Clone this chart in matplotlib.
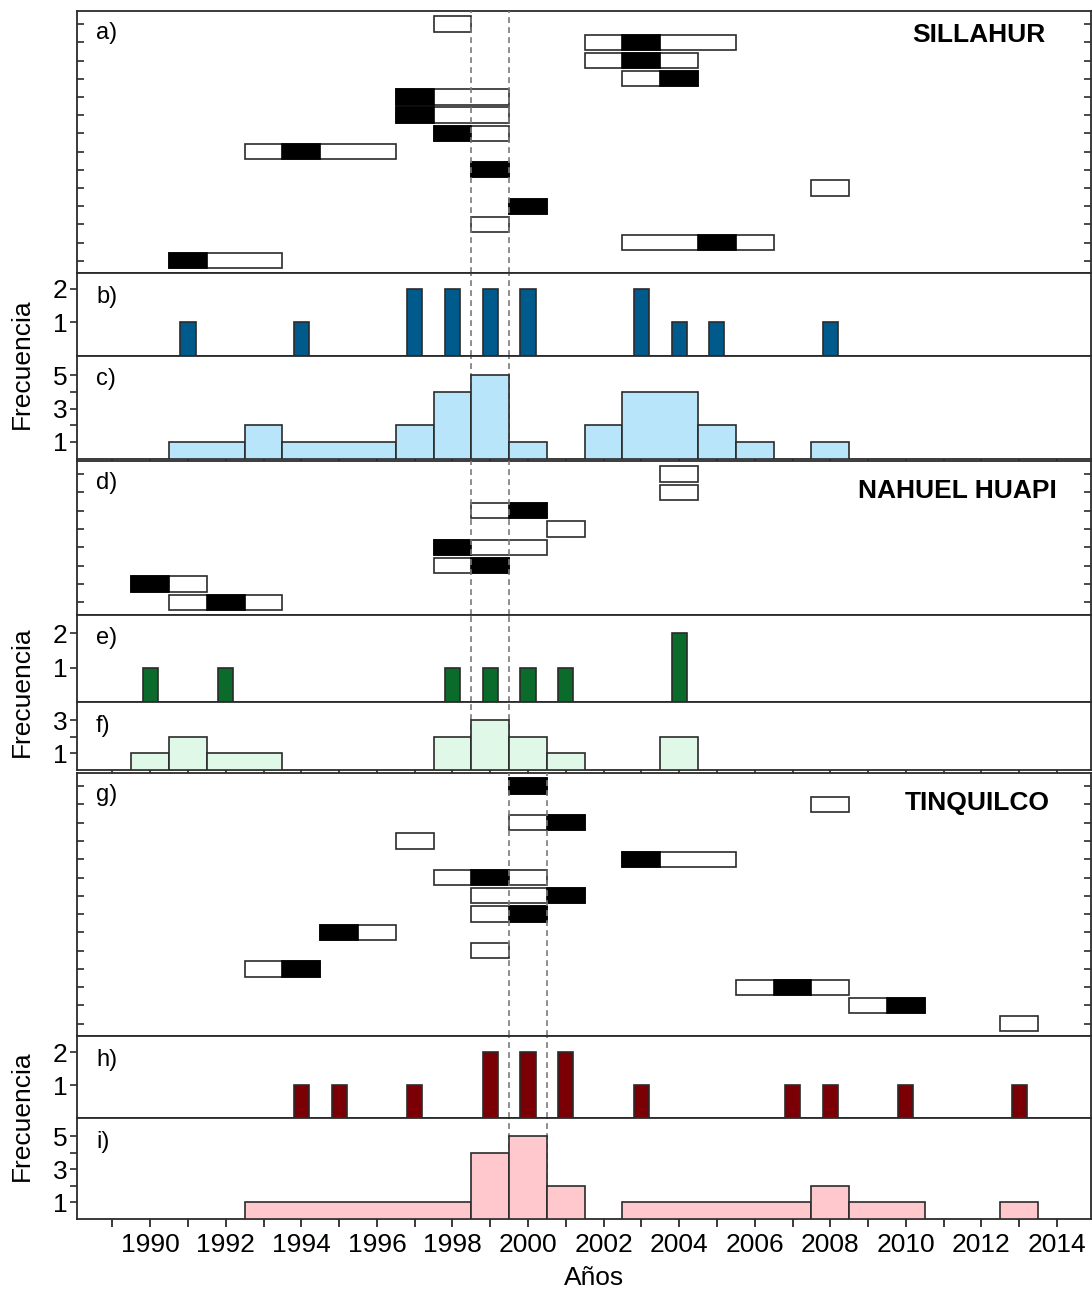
import matplotlib
matplotlib.use('Agg')
import matplotlib.pyplot as plt
from matplotlib.patches import Rectangle
from matplotlib.ticker import MultipleLocator, FixedLocator

plt.rcParams['font.family'] = ['Liberation Sans', 'DejaVu Sans']

# ---- data ----
# row panels: first year, last year, black year (None = all white), listed top -> bottom
sill_first = [1998, 2002, 2002, 2003, 1997, 1997, 1998, 1993, 1999, 2008, 2000, 1999, 2003, 1991]
sill_last  = [1998, 2005, 2004, 2004, 1999, 1999, 1999, 1996, 1999, 2008, 2000, 1999, 2006, 1993]
sill_black = [None, 2003, 2003, 2004, 1997, 1997, 1998, 1994, 1999, None, 2000, None, 2005, 1991]

sill_bar_years = [1991, 1994, 1997, 1998, 1999, 2000, 2003, 2004, 2005, 2008]
sill_bar_freq = [1, 1, 2, 2, 2, 2, 2, 1, 1, 1]

sill_hist_years = list(range(1991, 2009))
sill_hist_freq = [1, 1, 2, 1, 1, 1, 2, 4, 5, 1, 0, 2, 4, 4, 2, 1, 0, 1]

nah_first = [2004, 2004, 1999, 2001, 1998, 1998, 1990, 1991]
nah_last  = [2004, 2004, 2000, 2001, 2000, 1999, 1991, 1993]
nah_black = [None, None, 2000, None, 1998, 1999, 1990, 1992]

nah_bar_years = [1990, 1992, 1998, 1999, 2000, 2001, 2004]
nah_bar_freq = [1, 1, 1, 1, 1, 1, 2]

nah_hist_years = list(range(1990, 2005))
nah_hist_freq = [1, 2, 1, 1, 0, 0, 0, 0, 2, 3, 2, 1, 0, 0, 2]

tin_first = [2000, 2008, 2000, 1997, 2003, 1998, 1999, 1999, 1995, 1999, 1993, 2006, 2009, 2013]
tin_last  = [2000, 2008, 2001, 1997, 2005, 2000, 2001, 2000, 1996, 1999, 1994, 2008, 2010, 2013]
tin_black = [2000, None, 2001, None, 2003, 1999, 2001, 2000, 1995, None, 1994, 2007, 2010, None]

tin_bar_years = [1994, 1995, 1997, 1999, 2000, 2001, 2003, 2007, 2008, 2010, 2013]
tin_bar_freq = [1, 1, 1, 2, 2, 2, 1, 1, 1, 1, 1]

tin_hist_years = list(range(1993, 2014))
tin_hist_freq = [1, 1, 1, 1, 1, 1, 4, 5, 2, 0, 1, 1, 1, 1, 1, 2, 1, 1, 0, 0, 1]

sites = ['SILLAHUR', 'NAHUEL HUAPI', 'TINQUILCO']
dash_years = [[1998.5, 1999.5], [1998.5, 1999.5], [1999.5, 2000.5]]

# ---- layout (pixels) ----
W, H = 1092, 1291
fig = plt.figure(figsize=(W / 100, H / 100), dpi=100)
LEFT, RIGHT = 76.5, 1091

def make_ax(top, bottom):
    return fig.add_axes([LEFT / W, 1 - bottom / H, (RIGHT - LEFT) / W, (bottom - top) / H])

edge = '#2b2b2b'
XLIM = (1988.05, 2014.9)

def style(ax):
    ax.set_xlim(*XLIM)
    for s in ax.spines.values():
        s.set_linewidth(1.3)
        s.set_color(edge)
    ax.xaxis.set_major_locator(MultipleLocator(1))
    ax.tick_params(axis='x', which='both', bottom=False, labelbottom=False)

def row_panel(ax, first, last, black, dashes, site, label, site_xy):
    style(ax)
    n = len(first)
    h = 0.84
    for i in range(n):
        y = n - i
        ax.add_patch(Rectangle((first[i] - 0.5, y - h / 2), last[i] - first[i] + 1, h,
                               facecolor='white', edgecolor=edge, linewidth=1.2, zorder=2))
        if black[i] is not None:
            ax.add_patch(Rectangle((black[i] - 0.5, y - h / 2), 1, h,
                                   facecolor='black', edgecolor='black', linewidth=1.2, zorder=2))
    ax.set_ylim(0.33, n + 0.72)
    ax.yaxis.set_major_locator(FixedLocator(range(1, n + 1)))
    ax.tick_params(axis='y', which='both', direction='in', left=True, right=True,
                   labelleft=False, length=5, width=1.2, color=edge)
    for xd in dashes:
        ax.axvline(xd, color='#7a7a7a', linewidth=1.2, linestyle=(0, (3.5, 2.5)), zorder=3)
    ax.annotate(label, xy=(0, 1), xycoords='axes fraction', xytext=(14, -16),
                textcoords='offset points', fontsize=17, va='center', ha='left')
    ax.text(site_xy[0], site_xy[1], site, transform=fig.transFigure,
            fontsize=19, fontweight='bold', ha='right', va='center')

def bar_panel(ax, years, freq, color, dashes, label, top):
    style(ax)
    ax.bar(years, freq, width=0.4, color=color, edgecolor=edge, linewidth=1.2, zorder=3)
    ax.set_ylim(0, top)
    ax.set_yticks([1, 2])
    ax.tick_params(axis='y', direction='out', length=5, width=1.2, color=edge,
                   labelsize=19, pad=1.5)
    for xd in dashes:
        ax.axvline(xd, color='#7a7a7a', linewidth=1.2, linestyle=(0, (3.5, 2.5)), zorder=1)
    ax.annotate(label, xy=(0, 1), xycoords='axes fraction', xytext=(14, -17),
                textcoords='offset points', fontsize=17, va='center', ha='left')

def hist_panel(ax, years, freq, color, dashes, label, top, major, minor):
    style(ax)
    # merge runs of equal counts into one box
    i = 0
    while i < len(years):
        j = i
        while j + 1 < len(years) and freq[j + 1] == freq[i] and years[j + 1] == years[j] + 1:
            j += 1
        if freq[i] > 0:
            ax.bar(years[i] - 0.5, freq[i], width=years[j] - years[i] + 1, align='edge',
                   color=color, edgecolor=edge, linewidth=1.2, zorder=3)
        i = j + 1
    ax.set_ylim(0, top)
    ax.set_yticks(major)
    ax.set_yticks(minor, minor=True)
    ax.tick_params(axis='y', which='both', direction='out', length=5, width=1.2, color=edge,
                   labelsize=19, pad=1.5)
    for xd in dashes:
        ax.axvline(xd, color='#7a7a7a', linewidth=1.2, linestyle=(0, (3.5, 2.5)), zorder=1)
    ax.annotate(label, xy=(0, 1), xycoords='axes fraction', xytext=(14, -17),
                textcoords='offset points', fontsize=17, va='center', ha='left')

# SILLAHUR
ax_a = make_ax(11, 273)
row_panel(ax_a, sill_first, sill_last, sill_black, dash_years[0], sites[0], 'a)',
          (1045 / W, 1 - 35 / H))
ax_b = make_ax(273, 355.5)
bar_panel(ax_b, sill_bar_years, sill_bar_freq, '#005a8c', dash_years[0], 'b)', 2.48)
ax_c = make_ax(355.5, 458.5)
hist_panel(ax_c, sill_hist_years, sill_hist_freq, '#b9e5fb', dash_years[0], 'c)', 6.2,
           [1, 3, 5], [2, 4])
ax_c.tick_params(axis='x', which='both', bottom=True, direction='out', length=2.5,
                 width=1.2, color=edge)

# NAHUEL HUAPI
ax_d = make_ax(461, 614.5)
row_panel(ax_d, nah_first, nah_last, nah_black, dash_years[1], sites[1], 'd)',
          (1057 / W, 1 - 491 / H))
ax_e = make_ax(614.5, 702)
bar_panel(ax_e, nah_bar_years, nah_bar_freq, '#0a6b2a', dash_years[1], 'e)', 2.55)
ax_f = make_ax(702, 770)
hist_panel(ax_f, nah_hist_years, nah_hist_freq, '#e0f8e8', dash_years[1], 'f)', 4.1,
           [1, 3], [2])
ax_f.tick_params(axis='x', which='both', bottom=True, direction='out', length=2.5,
                 width=1.2, color=edge)

# TINQUILCO
ax_g = make_ax(773, 1036)
row_panel(ax_g, tin_first, tin_last, tin_black, dash_years[2], sites[2], 'g)',
          (1050 / W, 1 - 803 / H))
ax_h = make_ax(1036, 1118)
bar_panel(ax_h, tin_bar_years, tin_bar_freq, '#7a0005', dash_years[2], 'h)', 2.5)
ax_i = make_ax(1118, 1218.5)
hist_panel(ax_i, tin_hist_years, tin_hist_freq, '#ffc8cd', dash_years[2], 'i)', 6.1,
           [1, 3, 5], [2, 4])

# bottom x axis
ax_i.xaxis.set_major_locator(MultipleLocator(2))
ax_i.xaxis.set_minor_locator(MultipleLocator(1))
ax_i.tick_params(axis='x', which='both', bottom=True, direction='out', length=6,
                 width=1.3, color=edge)
ax_i.tick_params(axis='x', which='major', labelbottom=True, labelsize=19, pad=4.5)

for yc in [364, 692, 1116]:
    fig.text(22 / W, 1 - yc / H, 'Frecuencia', rotation=90, fontsize=19,
             ha='center', va='center')
fig.text(594 / W, 1 - 1278 / H, 'Años', fontsize=19, ha='center', va='center')

fig.savefig('out.png', dpi=100)
